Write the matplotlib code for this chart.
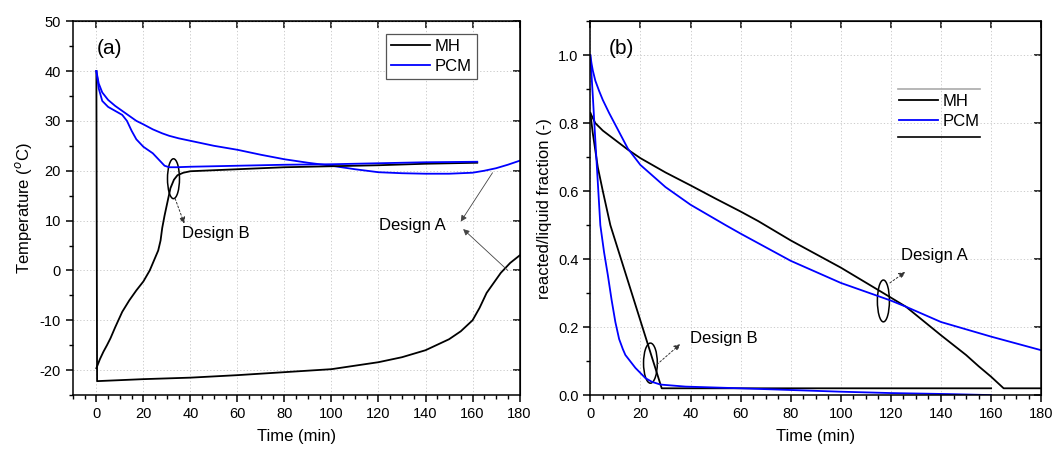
import numpy as np
import matplotlib
matplotlib.use("Agg")
import matplotlib.pyplot as plt
from matplotlib.patches import Ellipse
from matplotlib.lines import Line2D
from matplotlib.ticker import MultipleLocator

plt.rcParams["font.family"] = ["Liberation Sans", "DejaVu Sans"]
plt.rcParams["axes.unicode_minus"] = False

## Data
# (a) temperature, design A (slow) and design B (fast)
t_a_mh = [0, 0.3, 20, 40, 60, 80, 100, 120, 130, 140, 150, 155, 160, 163, 166, 169, 172, 176, 180]
temp_a_mh = [40, -22.2, -21.8, -21.5, -21.0, -20.4, -19.8, -18.4, -17.4, -16.0, -13.8, -12.2,
             -10.0, -7.5, -4.5, -2.5, -0.5, 1.5, 3.0]
t_b_mh = [0, 1.5, 3, 4.5, 6, 8, 11, 14, 17, 20, 22.7, 24.5, 26.3, 27.3, 28, 29, 30, 31.5, 33,
          34.5, 37, 40, 60, 80, 100, 120, 140, 162]
temp_b_mh = [-19.6, -17.8, -16.3, -15, -13.6, -11.4, -8.3, -6, -4, -2.2, 0, 2, 4, 6, 8.5, 11,
             13.2, 16.5, 18.2, 19.1, 19.6, 19.9, 20.3, 20.7, 20.9, 21.1, 21.4, 21.6]
t_a_pcm = [0, 1, 2.5, 5, 8, 11, 14, 17, 20, 24, 28, 31, 35, 40, 50, 60, 70, 80, 90, 100, 110,
           120, 130, 140, 150, 160, 165, 170, 175, 180]
temp_a_pcm = [40, 37.5, 35.7, 34.2, 33, 32, 31, 30, 29.3, 28.3, 27.5, 27, 26.5, 26, 25, 24.2,
              23.2, 22.3, 21.6, 21, 20.3, 19.7, 19.5, 19.4, 19.4, 19.6, 20, 20.5, 21.2, 22]
t_b_pcm = [0, 1, 2.5, 5, 8, 11, 13, 15, 17, 20, 24, 27, 29, 31, 34, 40, 60, 80, 100, 120, 140, 162]
temp_b_pcm = [40, 36.5, 34, 32.8, 32, 31.2, 30, 28, 26.3, 24.8, 23.5, 22, 21, 20.7, 20.7, 20.8,
              21, 21.2, 21.3, 21.5, 21.7, 21.8]

# (b) reacted / liquid fraction
t_a_mh_f = [0, 1, 2, 5, 10, 15, 20, 30, 40, 50, 60, 67, 80, 100, 117, 126, 140, 150, 155, 160,
            165, 180]
frac_a_mh = [0.83, 0.815, 0.8, 0.778, 0.75, 0.722, 0.697, 0.655, 0.617, 0.578, 0.54, 0.512,
             0.455, 0.375, 0.30, 0.26, 0.176, 0.118, 0.085, 0.054, 0.02, 0.02]
t_b_mh_f = [0, 1, 3, 5, 8, 28.5, 160]
frac_b_mh = [0.83, 0.77, 0.67, 0.6, 0.5, 0.02, 0.02]
t_a_pcm_f = [0, 0.5, 1, 2, 3.5, 5, 7.5, 10, 15, 20, 30, 40, 54, 60, 80, 100, 120, 126, 140, 160, 180]
frac_a_pcm = [1.0, 0.975, 0.955, 0.925, 0.895, 0.868, 0.83, 0.795, 0.725, 0.677, 0.612, 0.56,
              0.5, 0.475, 0.395, 0.33, 0.278, 0.26, 0.215, 0.172, 0.132]
t_b_pcm_f = [0, 1, 2, 4, 5.5, 7, 8.5, 10, 11.5, 13, 14, 18, 22, 24.6, 28, 38, 60, 80, 100, 120,
             143, 160]
frac_b_pcm = [1.0, 0.88, 0.75, 0.5, 0.42, 0.353, 0.28, 0.215, 0.165, 0.135, 0.118, 0.08, 0.05,
              0.039, 0.031, 0.025, 0.02, 0.015, 0.01, 0.006, 0.003, 0.0]

LW = 1.3
BLUE = "#0000ff"

fig = plt.figure(figsize=(10.56, 4.5), dpi=100)
ax1 = fig.add_axes([0.069, 0.122, 0.423, 0.831])
ax2 = fig.add_axes([0.559, 0.122, 0.427, 0.831])


def style_axes(ax):
    for sp in ax.spines.values():
        sp.set_linewidth(1.1)
    ax.tick_params(which="major", direction="out", length=5, width=1.1, labelsize=10.5,
                   top=False, right=False)
    ax.tick_params(which="minor", direction="out", length=3, width=1.0, top=False, right=False)
    ax.grid(True, which="major", color="#c4c4c4", linestyle=(0, (1.5, 2.5)), linewidth=0.6)
    ax.set_axisbelow(True)
    # inward ticks on top and right
    sec_x = ax.secondary_xaxis("top")
    sec_x.set_xticks(ax.get_xticks())
    sec_x.tick_params(direction="in", length=5, width=1.1, labeltop=False)
    sec_y = ax.secondary_yaxis("right")
    sec_y.set_yticks(ax.get_yticks())
    sec_y.tick_params(direction="in", length=5, width=1.1, labelright=False)


## Panel (a)
ax1.plot(t_a_mh, temp_a_mh, color="black", lw=LW, label="MH")
ax1.plot(t_a_pcm, temp_a_pcm, color=BLUE, lw=LW, label="PCM")
ax1.plot(t_b_mh, temp_b_mh, color="black", lw=LW)
ax1.plot(t_b_pcm, temp_b_pcm, color=BLUE, lw=LW)
ax1.set_xlim(-10, 180)
ax1.set_ylim(-25, 50)
ax1.set_xticks(np.arange(0, 181, 20))
ax1.set_yticks(np.arange(-20, 51, 10))
ax1.xaxis.set_minor_locator(MultipleLocator(5))
ax1.yaxis.set_minor_locator(MultipleLocator(5))
ax1.set_xlabel("Time (min)", fontsize=12, labelpad=6)
ax1.set_ylabel("Temperature ($^{o}$C)", fontsize=12)
style_axes(ax1)
ax1.text(0, 44.5, "(a)", fontsize=15, va="center", ha="left")
leg1 = ax1.legend(loc="upper right", bbox_to_anchor=(0.904, 0.965), fontsize=12,
                  fancybox=False, edgecolor="#555555", framealpha=1, handlelength=2.3,
                  borderpad=0.3, labelspacing=0.3, handletextpad=0.3, borderaxespad=0)
leg1.get_frame().set_linewidth(0.9)

ax1.add_patch(Ellipse((32.8, 18.4), 5.1, 8.0, fill=False, edgecolor="black", lw=1.1))
ax1.annotate("", xy=(37.4, 9.4), xytext=(33.5, 14.4),
             arrowprops=dict(arrowstyle="-|>", linestyle=(0, (2, 2)), lw=0.7, color="#333333",
                             mutation_scale=9, shrinkA=0, shrinkB=0))
ax1.text(36.5, 7.4, "Design B", fontsize=12, va="center", ha="left")
ax1.text(134.5, 9.0, "Design A", fontsize=12, va="center", ha="center")
for start, tip in [((168.5, 19.6), (155, 9.8)), ((175, 0.0), (156, 8.3))]:
    ax1.annotate("", xy=tip, xytext=start,
                 arrowprops=dict(arrowstyle="-|>", lw=0.6, color="#444444",
                                 mutation_scale=9, shrinkA=0, shrinkB=0))

## Panel (b)
ax2.plot(t_a_mh_f, frac_a_mh, color="black", lw=LW, label="MH")
ax2.plot(t_a_pcm_f, frac_a_pcm, color=BLUE, lw=LW, label="PCM")
ax2.plot(t_b_mh_f, frac_b_mh, color="black", lw=LW)
ax2.plot(t_b_pcm_f, frac_b_pcm, color=BLUE, lw=LW)
ax2.set_xlim(0, 180)
ax2.set_ylim(0, 1.1)
ax2.set_xticks(np.arange(0, 181, 20))
ax2.set_yticks(np.arange(0, 1.01, 0.2))
ax2.xaxis.set_minor_locator(MultipleLocator(5))
ax2.yaxis.set_minor_locator(MultipleLocator(0.1))
ax2.set_xlabel("Time (min)", fontsize=12, labelpad=6)
ax2.set_ylabel("reacted/liquid fraction (-)", fontsize=12)
style_axes(ax2)
ax2.text(7.2, 1.02, "(b)", fontsize=15, va="center", ha="left")
ax2.legend(loc="upper left", bbox_to_anchor=(0.678, 0.815), fontsize=12, frameon=False,
           handlelength=2.3, borderpad=0.2, labelspacing=0.3, handletextpad=0.3,
           borderaxespad=0)
ax2.add_line(Line2D([0.683, 0.865], [0.818, 0.818], transform=ax2.transAxes,
                    color="#aaaaaa", lw=1.2))
ax2.add_line(Line2D([0.683, 0.865], [0.69, 0.69], transform=ax2.transAxes,
                    color="black", lw=1.2))

ax2.add_patch(Ellipse((117, 0.277), 4.8, 0.123, fill=False, edgecolor="black", lw=1.1))
ax2.annotate("", xy=(125.7, 0.362), xytext=(119.6, 0.33),
             arrowprops=dict(arrowstyle="-|>", linestyle=(0, (2, 2)), lw=0.7, color="#333333",
                             mutation_scale=9, shrinkA=0, shrinkB=0))
ax2.text(124, 0.41, "Design A", fontsize=12, va="center", ha="left")
ax2.add_patch(Ellipse((24, 0.094), 5.5, 0.118, fill=False, edgecolor="black", lw=1.1))
ax2.annotate("", xy=(35.9, 0.15), xytext=(26.6, 0.09),
             arrowprops=dict(arrowstyle="-|>", linestyle=(0, (2, 2)), lw=0.7, color="#333333",
                             mutation_scale=9, shrinkA=0, shrinkB=0))
ax2.text(39.6, 0.167, "Design B", fontsize=12, va="center", ha="left")

fig.savefig("out.png", dpi=100)
